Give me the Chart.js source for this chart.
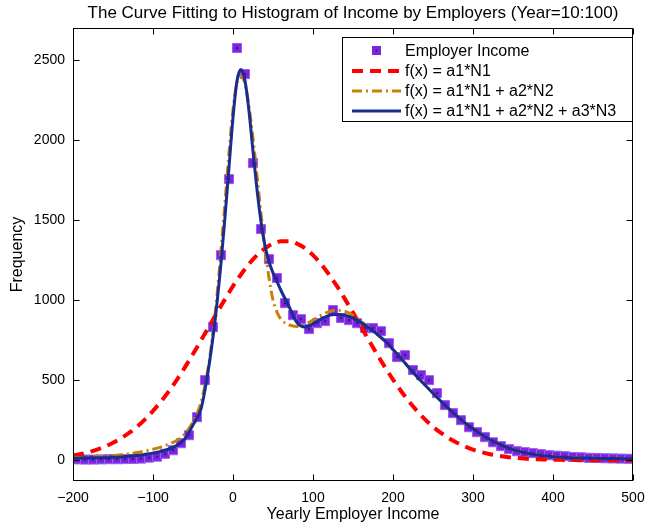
<!DOCTYPE html>
<html>
<head>
<meta charset="utf-8">
<script src="https://cdn.jsdelivr.net/npm/chart.js@4.4.0/dist/chart.umd.min.js"></script>
<style>
  html, body { margin: 0; padding: 0; background: #fff; }
  #wrap { width: 646px; height: 530px; }
</style>
</head>
<body>
<div id="wrap"><canvas id="income-chart" width="646" height="530"></canvas></div>
<script>
// histogram bins (centres) and counts
const binCenters = [-195, -185, -175, -165, -155, -145, -135, -125, -115, -105,
  -95, -85, -75, -65, -55, -45, -35, -25, -15, -5,
  5, 15, 25, 35, 45, 55, 65, 75, 85, 95,
  105, 115, 125, 135, 145, 155, 165, 175, 185, 195,
  205, 215, 225, 235, 245, 255, 265, 275, 285, 295,
  305, 315, 325, 335, 345, 355, 365, 375, 385, 395,
  405, 415, 425, 435, 445, 455, 465, 475, 485, 495];
const binCounts = [5, 4, 4, 5, 6, 6, 7, 8, 10, 16,
  22, 40, 62, 106, 156, 269, 500, 831, 1281, 1756,
  2575, 2412, 1856, 1444, 1256, 1138, 981, 906, 881, 819,
  856, 869, 938, 888, 875, 856, 825, 825, 806, 731,
  644, 656, 563, 531, 500, 419, 344, 294, 250, 206,
  175, 144, 112, 88, 69, 56, 50, 44, 38, 31,
  28, 25, 20, 18, 15, 14, 12, 11, 10, 9];

// x positions where the fitted curves were read
const fitX = [-200, -190, -180, -170, -160, -150, -140, -130, -120, -110, -100, -90, -80, -70, -60, -50,
  -40, -35, -30, -25, -20, -15, -10, -5, 0, 5, 10, 15, 20, 25, 30, 35, 40, 45, 50, 55, 60,
  70, 80, 90, 100, 110, 120, 130, 140, 150, 160, 170, 180, 190, 200, 210, 220, 230, 240, 250,
  260, 270, 280, 290, 300, 310, 320, 330, 340, 350, 360, 370, 380, 390, 400, 410, 420, 430,
  440, 450, 460, 470, 480, 490, 500];
const fitOne = [29, 39, 51, 66, 85, 109, 137, 170, 209, 255, 308, 367, 432, 504, 581, 663,
  748, 791, 835, 878, 922, 964, 1006, 1047, 1087, 1124, 1160, 1194, 1226, 1255, 1281, 1304, 1324, 1340, 1353, 1362, 1368,
  1368, 1353, 1324, 1281, 1226, 1160, 1087, 1006, 922, 835, 748, 663, 581, 504, 432, 367, 308, 255, 209,
  170, 137, 109, 85, 66, 51, 39, 29, 22, 16, 12, 8, 6, 4, 3, 2, 1, 1,
  1, 0, 0, 0, 0, 0, 0];
const fitTwo = [15, 17, 19, 22, 25, 29, 34, 40, 48, 57, 68, 82, 100, 125, 165, 240,
  360, 470, 610, 800, 1030, 1310, 1610, 1920, 2190, 2360, 2400, 2350, 2210, 2010, 1780, 1540, 1320, 1140, 1000, 925, 880,
  845, 835, 848, 875, 905, 928, 937, 930, 905, 868, 826, 786, 742, 690, 636, 578, 522, 470, 418,
  368, 320, 275, 233, 196, 162, 132, 106, 84, 66, 52, 41, 33, 27, 22, 19, 16, 14,
  13, 12, 11, 10, 10, 9, 9];
const fitThree = [12, 13, 14, 15, 16, 18, 20, 24, 29, 36, 44, 55, 70, 94, 135, 220,
  320, 440, 590, 770, 980, 1230, 1520, 1830, 2140, 2370, 2440, 2370, 2180, 1930, 1690, 1490, 1340, 1240, 1170, 1115, 1060,
  960, 860, 832, 852, 880, 905, 910, 905, 888, 860, 825, 788, 745, 692, 636, 578, 522, 470, 418,
  368, 320, 275, 233, 196, 162, 132, 106, 84, 66, 52, 41, 33, 27, 22, 19, 16, 14,
  13, 12, 11, 10, 10, 9, 9];

const xTicks = [-200, -100, 0, 100, 200, 300, 400, 500];
const yTicks = [0, 500, 1000, 1500, 2000, 2500];
const chartTitle = "The Curve Fitting to Histogram of Income by Employers (Year=10:100)";
const seriesNames = ["Employer Income", "f(x) = a1*N1", "f(x) = a1*N1 + a2*N2", "f(x) = a1*N1 + a2*N2 + a3*N3"];

const toPoints = (xs, ys) => xs.map((x, i) => ({ x: x, y: ys[i] }));

const markerFill = "rgb(125, 35, 225)";
const dotColor = "rgb(30, 40, 120)";
const redColor = "rgb(255, 0, 0)";
const goldColor = "rgb(200, 130, 0)";
const blueColor = "rgb(25, 45, 145)";
const fontFamily = "'Liberation Sans', Arial, sans-serif";

Chart.defaults.font.family = fontFamily;
Chart.defaults.color = "#000";

// MATLAB style box, inward ticks on all sides, title over the axes and the boxed legend
const boxAndLegend = {
  id: "boxAndLegend",
  afterDatasetsDraw(chart) {
    const { ctx, chartArea: a, scales } = chart;
    const L = Math.round(a.left) + 0.5, R = Math.round(a.right) - 0.5;
    const T = Math.round(a.top) + 0.5, B = Math.round(a.bottom) - 0.5;
    ctx.save();
    ctx.strokeStyle = "#000";
    ctx.lineWidth = 1;
    ctx.setLineDash([]);
    ctx.strokeRect(L, T, R - L, B - T);
    ctx.beginPath();
    xTicks.forEach(v => {
      const px = Math.round(scales.x.getPixelForValue(v)) + 0.5;
      ctx.moveTo(px, B); ctx.lineTo(px, B - 6);
      ctx.moveTo(px, T); ctx.lineTo(px, T + 6);
    });
    yTicks.forEach(v => {
      const py = Math.round(scales.y.getPixelForValue(v)) + 0.5;
      ctx.moveTo(L, py); ctx.lineTo(L + 6, py);
      ctx.moveTo(R, py); ctx.lineTo(R - 6, py);
    });
    ctx.stroke();

    // title, centred on the axes box
    ctx.fillStyle = "#000";
    ctx.font = "17px " + fontFamily;
    ctx.textAlign = "center";
    ctx.textBaseline = "middle";
    ctx.fillText(chartTitle, (a.left + a.right) / 2, 13);

    // legend
    const bx = 342.5, by = 37.5, bw = 290, bh = 84;
    ctx.fillStyle = "#fff";
    ctx.fillRect(bx, by, bw, bh);
    ctx.strokeRect(bx, by, bw, bh);
    const rows = [50.5, 71, 91, 111];
    const x0 = 352, x1 = 401;
    ctx.font = "16px " + fontFamily;
    ctx.textAlign = "left";
    ctx.fillStyle = markerFill;
    ctx.fillRect(372, rows[0] - 4.5, 9, 9);
    ctx.fillStyle = dotColor;
    ctx.fillRect(375.5, rows[0] - 1, 2, 2);
    const lineItems = [
      { c: redColor, w: 4, d: [11, 7] },
      { c: goldColor, w: 3, d: [10, 4, 2, 4] },
      { c: blueColor, w: 3, d: [] }
    ];
    lineItems.forEach((it, i) => {
      ctx.beginPath();
      ctx.strokeStyle = it.c;
      ctx.lineWidth = it.w;
      ctx.setLineDash(it.d);
      ctx.moveTo(x0, rows[i + 1]);
      ctx.lineTo(x1, rows[i + 1]);
      ctx.stroke();
    });
    ctx.setLineDash([]);
    ctx.fillStyle = "#000";
    seriesNames.forEach((s, i) => ctx.fillText(s, 405, rows[i] + 1));
    ctx.restore();
  }
};

new Chart("income-chart", {
  type: "scatter",
  data: {
    datasets: [
      {
        label: seriesNames[0],
        data: toPoints(binCenters, binCounts),
        showLine: false,
        pointStyle: "rect",
        pointRadius: 6.4,
        backgroundColor: markerFill,
        borderColor: "rgb(155, 95, 240)",
        borderWidth: 1,
        order: 5
      },
      {
        // dark centre dot of every marker
        label: "centres",
        data: toPoints(binCenters, binCounts),
        showLine: false,
        pointStyle: "rect",
        pointRadius: 1.5,
        backgroundColor: dotColor,
        borderWidth: 0,
        order: 4
      },
      {
        label: seriesNames[1],
        data: toPoints(fitX, fitOne),
        showLine: true,
        pointRadius: 0,
        borderColor: redColor,
        borderWidth: 4,
        borderDash: [11, 7],
        cubicInterpolationMode: "monotone",
        order: 3
      },
      {
        label: seriesNames[2],
        data: toPoints(fitX, fitTwo),
        showLine: true,
        pointRadius: 0,
        borderColor: goldColor,
        borderWidth: 3,
        borderDash: [10, 4, 2, 4],
        cubicInterpolationMode: "monotone",
        order: 2
      },
      {
        label: seriesNames[3],
        data: toPoints(fitX, fitThree),
        showLine: true,
        pointRadius: 0,
        borderColor: blueColor,
        borderWidth: 3,
        cubicInterpolationMode: "monotone",
        order: 1
      }
    ]
  },
  options: {
    responsive: false,
    animation: false,
    devicePixelRatio: 1,
    layout: { padding: { left: 0, right: 13, top: 28, bottom: 0 } },
    plugins: {
      legend: { display: false },
      tooltip: { enabled: false },
      title: { display: false }
    },
    scales: {
      x: {
        type: "linear",
        min: -200,
        max: 500,
        afterBuildTicks: s => { s.ticks = xTicks.map(v => ({ value: v })); },
        afterFit: s => { s.height = 49; s.paddingLeft = 0; s.paddingRight = 0; },
        grid: { display: false, drawTicks: false },
        border: { display: false },
        ticks: {
          font: { size: 14 },
          padding: 8.5,
          maxRotation: 0,
          callback: v => (v < 0 ? "\u2212" + Math.abs(v) : String(v))
        },
        title: {
          display: true,
          text: "Yearly Employer Income",
          font: { size: 16 },
          padding: { top: 0, bottom: 5.5 }
        }
      },
      y: {
        type: "linear",
        min: -130,
        max: 2700,
        afterBuildTicks: s => { s.ticks = yTicks.map(v => ({ value: v })); },
        afterFit: s => { s.width = 73; },
        grid: { display: false, drawTicks: false },
        border: { display: false },
        ticks: { font: { size: 14 }, padding: 8, callback: v => String(v) },
        title: {
          display: true,
          text: "Frequency",
          font: { size: 16 },
          padding: { top: 8.4, bottom: 0 }
        }
      }
    }
  },
  plugins: [boxAndLegend]
});
</script>
</body>
</html>
